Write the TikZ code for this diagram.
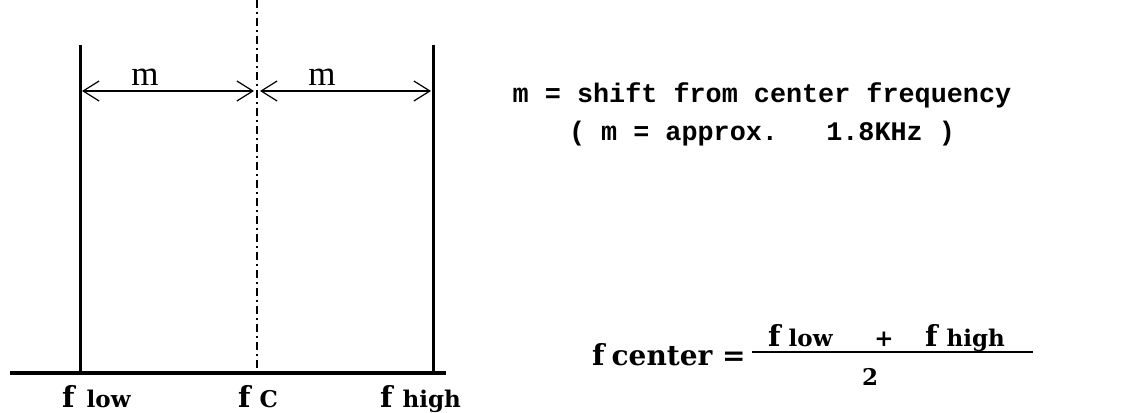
\documentclass[tikz,border=0pt]{standalone}
\usepackage{fontspec}
\setmainfont{Liberation Serif}
\newfontfamily\dvs{DejaVu Serif}
\newfontfamily\monofam{Liberation Mono}
\usetikzlibrary{arrows.meta}
\newcommand\BigF{{\fontsize{29}{34}\selectfont f}}
\begin{document}
\begin{tikzpicture}[x=1pt,y=-1pt,
  lbl/.style={inner sep=0pt, anchor=base west, font=\dvs\bfseries\fontsize{23}{28}\selectfont},
  mlbl/.style={inner sep=0pt, anchor=base, font=\fontsize{35}{40}\selectfont},
  note/.style={inner sep=0pt, anchor=base, font=\monofam\bfseries\fontsize{26.8}{32}\selectfont},
  bar/.style={line width=3pt},
  axis/.style={line width=3.6pt},
  dim/.style={line width=1.2pt, {Straight Barb[length=16pt,width=20pt]}-{Straight Barb[length=16pt,width=20pt]}},
  centerline/.style={line width=1.5pt, dash pattern=on 8pt off 4pt on 2pt off 4pt}]
\useasboundingbox (0,0) rectangle (1137,412);
% coordinates
\coordinate (lowtop) at (80,45);
\coordinate (lowbot) at (80,373);
\coordinate (hightop) at (433,45);
\coordinate (highbot) at (433,373);
\coordinate (ctop) at (257,0);
\coordinate (cbot) at (257,373);
\coordinate (axl) at (10,373);
\coordinate (axr) at (446,373);
\coordinate (al) at (82,91);
\coordinate (ac) at (257,91);
\coordinate (ar) at (431,91);
% lines
\draw[bar] (lowtop) -- (lowbot);
\draw[bar] (hightop) -- (highbot);
\draw[centerline] (ctop) -- (cbot);
\draw[axis] (axl) -- (axr);
\draw[dim] (al) -- ([xshift=-3pt]ac);
\draw[dim] ([xshift=3pt]ac) -- (ar);
\node[mlbl] (m1) at (145,85) {m};
\node[mlbl] (m2) at (322,85) {m};
% bottom labels
\node[lbl] (flow) at (62,407) {\BigF\hspace{12pt}low};
\node[lbl] (fc) at (238,407) {\BigF\hspace{9pt}C};
\node[lbl] (fhigh) at (380,407) {\BigF\hspace{10pt}high};
% note
\node[note] (n1) at (762,102) {m = shift from center frequency};
\node[note] (n2) at (762,140) {( m = approx.\ \ \ 1.8KHz )};
% formula
\node[lbl] (fcenter) at (592,365) {\BigF\hspace{7pt}{\fontsize{28}{32}\selectfont center =}};
\coordinate (fbl) at (752,352);
\coordinate (fbr) at (1033,352);
\draw[line width=2pt] (fbl) -- (fbr);
\node[lbl] (nlow) at (768,346) {\BigF\hspace{8pt}low};
\node[lbl, anchor=base] (plus) at (884,346) {+};
\node[lbl] (nhigh) at (925,346) {\BigF\hspace{9pt}high};
\node[lbl, anchor=base] (two) at (870,385) {2};
\end{tikzpicture}
\end{document}
